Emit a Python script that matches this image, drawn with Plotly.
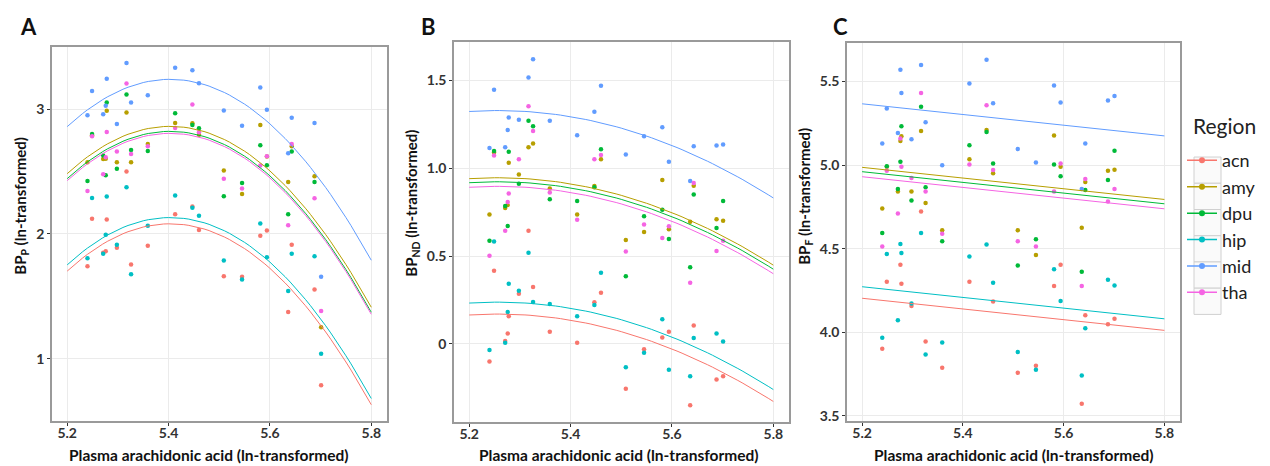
import numpy as np
import plotly.graph_objects as go

W, H = 1270, 466

regions = ["acn", "amy", "dpu", "hip", "mid", "tha"]
colors = ["#F8766D", "#B79F00", "#00BA38", "#00BFC4", "#619CFF", "#F564E3"]

# plasma arachidonic acid (ln) per subject
plasma_aa = [5.240, 5.249, 5.271, 5.276, 5.278, 5.298, 5.317, 5.326, 5.359, 5.413,
             5.447, 5.460, 5.509, 5.545, 5.581, 5.594, 5.636, 5.643, 5.688, 5.701]

# Panel A: BP_P
A_acn = [1.741, 2.121, 1.85, 1.861, 2.116, 1.890, 2.501, 1.754, 1.906, 2.158, 2.219, 2.031, 1.661, 1.656, 1.985, 2.028, 1.375, 1.914, 1.555, 0.788]
A_amy = [2.575, 2.79, 2.60, 2.602, 2.987, 2.575, 2.973, 2.575, 2.721, 2.888, 2.886, 2.795, 2.509, 2.320, 2.873, 2.62, 2.416, 2.703, 2.463, 1.252]
A_dpu = [2.424, 2.801, 2.628, 2.471, 3.053, 2.522, 3.117, 2.673, 2.665, 2.968, 2.873, 2.846, 2.301, 2.408, 2.710, 2.551, 2.158, 2.660, 2.416, None]
A_hip = [1.805, 2.288, 1.842, 1.993, 2.299, 1.914, 2.373, 1.677, 2.065, 2.307, 2.209, 2.145, 1.786, 1.635, 2.084, 1.813, 1.542, 1.842, 1.821, 1.040]
A_mid = [2.952, 3.146, 2.960, 3.027, 3.244, 2.880, 3.369, 3.053, 3.112, 3.332, 3.311, 3.207, 2.989, 2.867, 3.173, 2.995, 2.647, 2.931, 2.888, 1.656]
A_tha = [2.344, 2.782, 2.479, 2.615, 2.817, 2.660, 3.205, 2.641, 2.703, 2.849, 3.037, 2.815, 2.442, 2.363, 2.548, 2.623, 2.070, 2.721, 2.286, 1.382]

# Panel B: BP_ND
B_acn = [-0.102, 0.416, 0.015, 0.058, 0.157, 0.285, 0.644, 0.323, 0.068, 0.006, 0.236, 0.291, -0.257, -0.032, 0.036, 0.068, -0.351, 0.104, -0.204, -0.185]
B_amy = [0.737, 1.09, 0.773, 0.79, 1.031, 0.965, 1.120, 1.141, 0.885, 0.737, 0.899, 1.052, 0.591, 0.637, 0.933, 0.652, 0.695, 0.901, 0.710, 0.701]
B_dpu = [0.587, 1.099, 0.785, 0.671, 1.094, 0.912, 1.271, 1.239, 0.824, 0.814, 0.892, 1.109, 0.385, 0.727, 0.763, 0.597, 0.436, 0.850, 0.659, 0.814]
B_hip = [-0.036, 0.582, 0.006, 0.181, 0.342, 0.302, 0.519, 0.238, 0.227, 0.157, 0.221, 0.404, -0.134, -0.051, 0.140, -0.149, -0.185, 0.032, 0.058, 0.013]
B_mid = [1.116, 1.447, 1.120, 1.218, 1.290, 1.277, 1.517, 1.621, 1.271, 1.188, 1.322, 1.470, 1.079, 1.183, 1.234, 1.037, 0.928, 1.126, 1.130, 1.135]
B_tha = [0.502, 1.073, 0.644, 0.808, 0.856, 1.052, 1.353, 1.213, 0.862, 0.706, 1.052, 1.075, 0.525, 0.680, 0.603, 0.669, 0.348, 0.916, 0.529, 0.587]

# Panel C: BP_F
C_acn = [3.902, 4.303, None, 4.404, 4.291, 4.158, 4.723, 3.946, 3.789, 4.303, None, 4.184, 3.758, 3.801, 4.277, 4.404, 3.573, 4.103, 4.049, 4.081]
C_amy = [4.741, 4.99, 4.842, 5.145, 5.173, 4.842, 5.205, 4.773, 4.61, 5.036, 5.211, 4.951, 4.610, 4.463, 5.177, 4.991, 4.626, 4.899, 4.967, 4.973]
C_dpu = [4.594, 4.993, 4.858, 5.020, 5.232, 4.788, 5.35, 4.868, 4.545, 5.119, 5.199, 5.010, 4.400, 4.557, 5.004, 4.933, 4.362, 4.852, 4.911, 5.086]
C_hip = [3.968, 4.469, 4.073, 4.529, 4.475, 4.172, 4.594, 3.867, 3.940, 4.453, 4.525, 4.297, 3.883, 3.776, 4.378, 4.188, 3.742, 4.025, 4.315, 4.281]
C_mid = [5.129, 5.339, 5.193, 5.571, 5.431, 5.155, 5.599, 5.256, 4.999, 5.488, 5.631, 5.371, 5.096, 5.016, 5.476, 5.375, 4.858, 5.129, 5.387, 5.413]
C_tha = [4.513, 4.967, 4.711, 5.159, 4.991, 4.923, 5.431, 4.842, 4.590, 5.004, 5.359, 4.971, 4.545, 4.513, 4.842, 5.010, 4.277, 4.917, 4.782, 4.858]

# fitted model parameters (region order as `regions`)
A_peak = [2.081, 2.862, 2.822, 2.131, 3.239, 2.806]
A_vertex, A_curv = 5.403, 9.2
B_peak = [0.169, 0.946, 0.923, 0.237, 1.329, 0.897]
B_vertex, B_curv = 5.256, 1.683
C_at52 = [4.204, 4.987, 4.961, 4.273, 5.367, 4.931]
C_slope = -0.32

fit_x = np.linspace(5.2, 5.8, 61)

panels = [
    dict(ys=[A_acn, A_amy, A_dpu, A_hip, A_mid, A_tha],
         fits=[p - A_curv * (fit_x - A_vertex) ** 2 for p in A_peak],
         yrange=[0.498, 3.5], tickvals=[1, 2, 3], ticktext=["1", "2", "3"],
         px=(44, 379), py=(39, 416), ytitle="<b>BP<sub>P</sub> (ln-transformed)</b>",
         ytx=13, yty=199, xtx=201, letter="A", lx=20),
    dict(ys=[B_acn, B_amy, B_dpu, B_hip, B_mid, B_tha],
         fits=[p - B_curv * (fit_x - B_vertex) ** 2 for p in B_peak],
         yrange=[-0.448, 1.721], tickvals=[0, 0.5, 1.0, 1.5], ticktext=["0", "0.5", "1.0", "1.5"],
         px=(446, 781), py=(34, 417), ytitle="<b>BP<sub>ND</sub> (ln-transformed)</b>",
         ytx=404, yty=197, xtx=611, letter="B", lx=420),
    dict(ys=[C_acn, C_amy, C_dpu, C_hip, C_mid, C_tha],
         fits=[b + C_slope * (fit_x - 5.2) for b in C_at52],
         yrange=[3.468, 5.732], tickvals=[3.5, 4.0, 4.5, 5.0, 5.5], ticktext=["3.5", "4.0", "4.5", "5.0", "5.5"],
         px=(839, 1172), py=(35, 416), ytitle="<b>BP<sub>F</sub> (ln-transformed)</b>",
         ytx=797, yty=190, xtx=1006, letter="C", lx=832),
]

fig = go.Figure()
layout = dict(width=W, height=H, margin=dict(l=0, r=0, t=0, b=0),
              paper_bgcolor="white", plot_bgcolor="white",
              font=dict(family="Lato, Open Sans, sans-serif", color="#222"),
              annotations=[], shapes=[])

for i, p in enumerate(panels):
    xa = "xaxis" if i == 0 else f"xaxis{i+1}"
    ya = "yaxis" if i == 0 else f"yaxis{i+1}"
    xr = "x" if i == 0 else f"x{i+1}"
    yr = "y" if i == 0 else f"y{i+1}"
    for k, reg in enumerate(regions):
        fig.add_trace(go.Scatter(x=plasma_aa, y=p["ys"][k], mode="markers", xaxis=xr, yaxis=yr,
                                 marker=dict(color=colors[k], size=4.5), showlegend=False,
                                 hoverinfo="skip"))
    for k, reg in enumerate(regions):
        fig.add_trace(go.Scatter(x=fit_x, y=p["fits"][k], mode="lines", xaxis=xr, yaxis=yr,
                                 line=dict(color=colors[k], width=1), showlegend=False,
                                 hoverinfo="skip"))
    x0, x1 = p["px"]
    y0, y1 = p["py"]
    common = dict(showgrid=True, gridcolor="#ebebeb", gridwidth=1, zeroline=False,
                  showline=True, linecolor="#9a9a9a", linewidth=1.5, mirror=True,
                  ticks="outside", ticklen=3, tickcolor="#333",
                  tickfont=dict(size=14, color="#333", weight="bold"))
    layout[xa] = dict(domain=[x0 / W, x1 / W], range=[5.17, 5.831], anchor=yr,
                      tickvals=[5.2, 5.4, 5.6, 5.8], ticktext=["5.2", "5.4", "5.6", "5.8"],
                      ticklabelstandoff=-5, **common)
    layout[ya] = dict(domain=[1 - y1 / H, 1 - y0 / H], range=p["yrange"], anchor=xr,
                      tickvals=p["tickvals"], ticktext=p["ticktext"], **common)
    layout["annotations"].append(dict(text=p["ytitle"], x=p["ytx"] / W, y=1 - p["yty"] / H,
                                      xref="paper", yref="paper", showarrow=False, textangle=-90,
                                      font=dict(size=15, color="#111"), xanchor="center", yanchor="middle"))
    layout["annotations"].append(dict(text="<b>Plasma arachidonic acid (ln-transformed)</b>",
                                      x=p["xtx"] / W, y=1 - 450 / H, xref="paper", yref="paper",
                                      showarrow=False, font=dict(size=15.5, color="#111"),
                                      xanchor="center", yanchor="middle"))
    layout["annotations"].append(dict(text=f"<b>{p['letter']}</b>", x=p["lx"] / W, y=1 - 19 / H,
                                      xref="paper", yref="paper", showarrow=False,
                                      font=dict(size=22, color="#111"), xanchor="center", yanchor="middle"))

# legend title
layout["annotations"].append(dict(text="Region", x=1183 / W, y=1 - 118 / H, xref="paper", yref="paper",
                                  showarrow=False, font=dict(size=21, color="#222"),
                                  xanchor="left", yanchor="middle"))

# legend key boxes (style only)
for j in range(6):
    top = 150 + j * 26.4
    layout["shapes"].append(dict(type="rect", xref="paper", yref="paper",
                                 x0=1186 / W, x1=1213 / W, y0=1 - (top + 26.4) / H, y1=1 - top / H,
                                 line=dict(color="#d0d0d0", width=1), fillcolor="#fafafa", layer="below"))

# legend entries
for k, reg in enumerate(regions):
    fig.add_trace(go.Scatter(x=[None], y=[None], mode="lines+markers", name=reg,
                             line=dict(color=colors[k], width=1.5), marker=dict(color=colors[k], size=6),
                             showlegend=True))

layout["legend"] = dict(x=1174 / W, y=1 - 135 / H, xanchor="left", yanchor="top",
                        font=dict(size=18, color="#222"), tracegroupgap=0, itemwidth=30,
                        bgcolor="rgba(0,0,0,0)")
fig.update_layout(**layout)
fig.write_html("out.html")
